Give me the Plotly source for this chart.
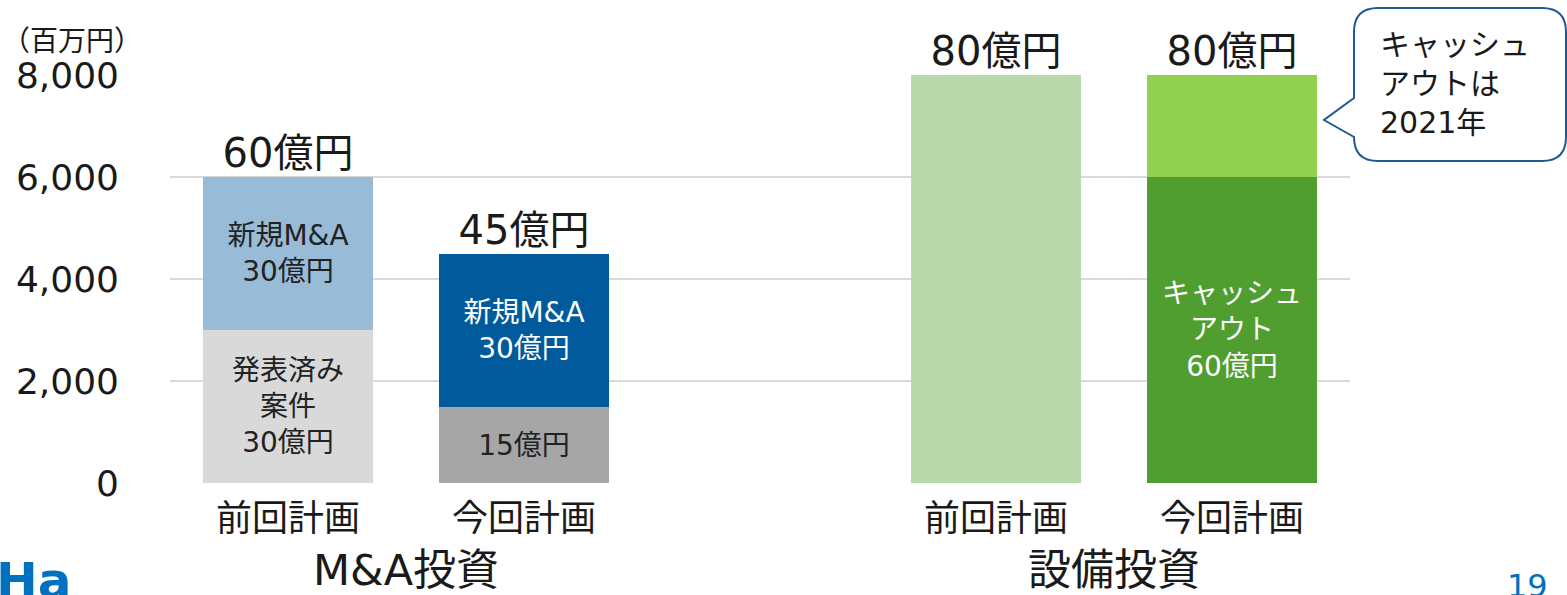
import plotly.graph_objects as go

# ---- data ----
plans = ["前回計画", "今回計画", "前回計画", "今回計画"]
groups = ["M&A投資", "設備投資"]
x_pos = [0, 1, 3, 4]
group_centers = [0.5, 3.5]
bottom_vals = [3000, 1500, 8000, 6000]
top_vals = [3000, 3000, 0, 2000]
totals = [6000, 4500, 8000, 8000]
total_labels = ["60億円", "45億円", "80億円", "80億円"]
bottom_labels = ["発表済み<br>案件<br>30億円", "15億円", "", "キャッシュ<br>アウト<br>60億円"]
top_labels = ["新規M&A<br>30億円", "新規M&A<br>30億円", "", ""]
y_ticks = [0, 2000, 4000, 6000, 8000]
y_ticktext = ["0", "2,000", "4,000", "6,000", "8,000"]

bottom_colors = ["#D9D9D9", "#A6A6A6", "#B9D8AC", "#519E30"]
top_colors = ["#98BBD7", "#005A9B", "#B9D8AC", "#92D050"]
bottom_text_colors = ["#222222", "#222222", "#222222", "#FFFFFF"]
top_text_colors = ["#222222", "#FFFFFF", "#222222", "#222222"]

FONT = "DejaVu Sans, Noto Sans CJK JP"
TXT = "#1a1a1a"

W, H = 1567, 595
L, R, T, B = 170, 217, 75, 112


def px_x(p):
    return (p - L) / (W - L - R)


def px_y(p):
    return (H - B - p) / (H - T - B)


fig = go.Figure()
fig.add_trace(go.Bar(
    x=x_pos, y=bottom_vals, width=0.72, marker=dict(color=bottom_colors, line=dict(width=0)),
    text=bottom_labels, textposition="inside", insidetextanchor="middle", textangle=0,
    textfont=dict(size=28, color=bottom_text_colors, family=FONT), constraintext="none",
    hoverinfo="skip", showlegend=False))
fig.add_trace(go.Bar(
    x=x_pos, y=top_vals, width=0.72, marker=dict(color=top_colors, line=dict(width=0)),
    text=top_labels, textposition="inside", insidetextanchor="middle", textangle=0,
    textfont=dict(size=28, color=top_text_colors, family=FONT), constraintext="none",
    hoverinfo="skip", showlegend=False))
fig.add_trace(go.Scatter(
    x=x_pos, y=totals, mode="text", text=total_labels, textposition="top center",
    textfont=dict(size=40, color=TXT, family=FONT), hoverinfo="skip", showlegend=False,
    cliponaxis=False))

# category labels
for xp, lab in zip(x_pos, plans):
    fig.add_annotation(x=xp, y=px_y(518), xref="x", yref="paper", text=lab, showarrow=False,
                       font=dict(size=36, color=TXT, family=FONT), yanchor="middle")
for xc, g in zip(group_centers, groups):
    fig.add_annotation(x=xc, y=px_y(570), xref="x", yref="paper", text=g, showarrow=False,
                       font=dict(size=43, color=TXT, family=FONT), yanchor="middle")

# unit label
fig.add_annotation(x=px_x(14), y=px_y(41), xref="paper", yref="paper", text="（百万円）",
                   showarrow=False, xanchor="left", yanchor="middle",
                   font=dict(size=28, color=TXT, family=FONT), xshift=-14)

# callout bubble
x0, x1, y0, y1, r = px_x(1354), px_x(1566), px_y(8), px_y(161), 24
rx = r / (W - L - R)
ry = r / (H - T - B)
tipx, tipy = px_x(1324), px_y(120)
pa, pb = px_y(98), px_y(137)
path = (f"M {x0+rx},{y0} L {x1-rx},{y0} Q {x1},{y0} {x1},{y0-ry} "
        f"L {x1},{y1+ry} Q {x1},{y1} {x1-rx},{y1} L {x0+rx},{y1} Q {x0},{y1} {x0},{y1+ry} "
        f"L {x0},{pb} L {tipx},{tipy} L {x0},{pa} L {x0},{y0-ry} Q {x0},{y0} {x0+rx},{y0} Z")
fig.add_shape(type="path", path=path, xref="paper", yref="paper",
              line=dict(color="#1F5A96", width=2), fillcolor="white", layer="above")
fig.add_annotation(x=px_x(1378), y=px_y(83), xref="paper", yref="paper",
                   text="キャッシュ<br>アウトは<br>2021年", showarrow=False, align="left",
                   xanchor="left", yanchor="middle", font=dict(size=30, color=TXT, family=FONT))

# logo fragment and page number
fig.add_annotation(x=px_x(-6), y=px_y(581), xref="paper", yref="paper", text="<b>Ha</b>",
                   showarrow=False, xanchor="left", yanchor="middle",
                   font=dict(size=50, color="#0070C0", family="DejaVu Sans"))
fig.add_annotation(x=px_x(1527), y=px_y(586), xref="paper", yref="paper", text="19",
                   showarrow=False, xanchor="center", yanchor="middle",
                   font=dict(size=32, color="#0070C0", family=FONT))

fig.update_layout(
    width=W, height=H, barmode="stack", bargap=0,
    margin=dict(l=L, r=R, t=T, b=B, autoexpand=False),
    plot_bgcolor="white", paper_bgcolor="white",
    xaxis=dict(range=[-0.5, 4.5], showticklabels=False, showgrid=False, zeroline=False,
               showline=False, ticks=""),
    yaxis=dict(range=[0, 8000], tickvals=y_ticks, ticktext=y_ticktext, showgrid=True,
               gridcolor="#D9D9D9", gridwidth=2, zeroline=False, showline=False,
               tickfont=dict(size=36, color=TXT, family=FONT), ticklabelstandoff=50),
    font=dict(family=FONT),
)

fig.write_html("out.html", config={"displayModeBar": False},
               post_script="document.body.style.margin='0';document.body.style.overflow='hidden';")
